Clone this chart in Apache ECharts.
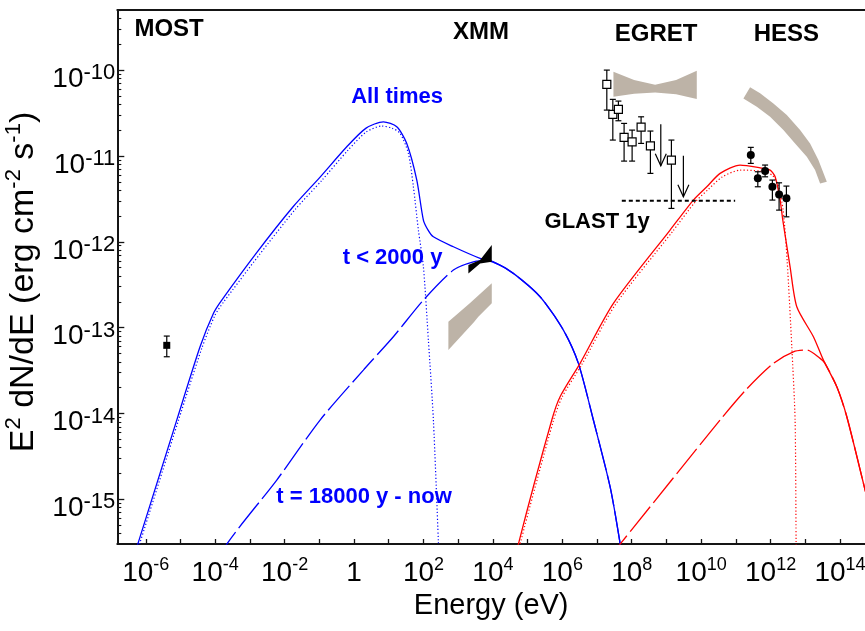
<!DOCTYPE html>
<html>
<head>
<meta charset="utf-8">
<script src="https://cdn.jsdelivr.net/npm/echarts@6/dist/echarts.min.js"></script>
<style>
  html, body { margin: 0; padding: 0; background: #fff; }
  #chart { width: 865px; height: 631px; }
</style>
</head>
<body>
<div id="chart"></div>
<script>
// Every point is [log10(E / eV), log10(E^2 dN/dE / erg cm^-2 s^-1)].

// Synchrotron, total of all electron populations
const syncTotal = [[-6.378,-15.71],[-6.230,-15.521],[-5.107,-14.077],[-4.436,-13.223],[-4.052,-12.834],[-3.810,-12.679],
  [-2.793,-12.120],[-1.756,-11.592],[-0.978,-11.246],[-0.209,-10.893],[0.347,-10.676],[0.845,-10.602],[1.231,-10.660],
  [1.519,-10.854],[1.808,-11.281],[1.998,-11.747],[2.133,-11.864],[2.286,-11.942],[2.862,-12.058],[3.631,-12.193],
  [4.015,-12.233],[4.591,-12.368],[5.360,-12.640],[6.031,-13.028],[6.463,-13.416],[6.895,-14.076],[7.376,-14.853],
  [7.665,-15.513],[7.720,-15.71]];
// Synchrotron, electrons injected during t < 2000 y
const syncEarly = [[-6.327,-15.71],[-6.179,-15.521],[-5.055,-14.076],[-4.384,-13.238],[-4.003,-12.853],[-3.759,-12.702],
  [-2.736,-12.155],[-1.699,-11.625],[-0.921,-11.281],[-0.172,-10.932],[0.347,-10.722],[0.799,-10.652],[1.096,-10.676],
  [1.327,-10.737],[1.566,-10.970],[1.710,-11.359],[1.854,-11.864],[1.998,-12.291],[2.142,-13.145],[2.286,-14.076],
  [2.430,-15.494],[2.450,-15.71]];
// Synchrotron, electrons injected from t = 18000 y until now
const syncLate = [[-3.800,-15.71],[-3.666,-15.521],[-2.226,-14.775],[-0.978,-14.076],[0.269,-13.494],[1.133,-13.106],
  [1.998,-12.679],[2.862,-12.329],[3.438,-12.233],[3.824,-12.221],[4.207,-12.271],[4.591,-12.368],[5.360,-12.640],
  [6.031,-13.028],[6.463,-13.416],[6.895,-14.076],[7.376,-14.853],[7.665,-15.513],[7.720,-15.71]];

// Inverse Compton, same three populations
const icTotal = [[4.670,-15.71],[4.735,-15.521],[5.697,-14.076],[5.936,-13.805],[6.512,-13.416],[7.472,-12.717],
  [9.105,-11.863],[9.776,-11.514],[10.163,-11.359],[10.546,-11.203],[11.122,-11.106],[11.698,-11.138],[11.987,-11.165],
  [12.131,-11.243],[12.275,-11.514],[12.352,-11.747],[12.562,-12.291],[12.755,-12.757],[13.234,-13.106],[13.522,-13.378],
  [13.908,-13.689],[14.196,-14.038],[14.723,-14.892],[14.867,-15.125]];
const icEarly = [[4.720,-15.71],[4.784,-15.521],[5.749,-14.076],[5.994,-13.808],[6.570,-13.424],[7.521,-12.737],
  [9.163,-11.887],[9.826,-11.537],[10.215,-11.386],[10.604,-11.246],[11.122,-11.165],[11.698,-11.176],[12.044,-11.223],
  [12.217,-11.339],[12.361,-11.631],[12.476,-12.213],[12.611,-13.223],[12.706,-14.076],[12.735,-15.494],[12.740,-15.71]];
const icLate = [[7.285,-15.71],[7.665,-15.521],[10.546,-14.076],[11.300,-13.720],[12.081,-13.416],[12.657,-13.281],
  [13.043,-13.261],[13.426,-13.358],[13.560,-13.410],[13.908,-13.689],[14.196,-14.038],[14.723,-14.892],[14.867,-15.125]];

// Radio flux: [log E, log F, log F upper, log F lower]
const mostPoints = [[-5.395,-13.206,-13.098,-13.339]];
// EGRET spectral points
const egretPoints = [[7.282,-10.167,-10.000,-10.466],[7.455,-10.516,-10.341,-10.815],[7.616,-10.458,-10.361,-10.590],
  [7.780,-10.784,-10.621,-11.060],[8.011,-10.835,-10.699,-11.060],[8.270,-10.664,-10.544,-10.854],
  [8.538,-10.882,-10.710,-11.203],[9.143,-11.048,-10.815,-11.611]];
// EGRET upper limits: [log E, log F from, log F arrow tip]
const egretLimits = [[8.837,-10.632,-11.115],[9.488,-10.998,-11.476]];
// HESS spectral points
const hessPoints = [[11.430,-10.990,-10.900,-11.087],[11.632,-11.261,-11.184,-11.359],[11.842,-11.176,-11.106,-11.243],
  [12.052,-11.359,-11.281,-11.514],[12.245,-11.448,-11.313,-11.631],[12.456,-11.494,-11.351,-11.709]];
// GLAST one-year sensitivity
const glastLine = [[7.714,-11.522],[10.979,-11.522]];

// Spectral fit envelopes
const xmmBowtie = [[3.294,-12.271],[3.631,-12.213],[3.968,-12.038],[3.968,-12.233],[3.631,-12.252],[3.294,-12.368]];
const xrayBand = [[2.718,-12.932],[3.343,-12.714],[3.968,-12.484],[3.968,-12.717],[3.574,-12.877],[3.458,-12.935],[2.718,-13.261]];
const egretBand = [[7.473,-10.020],[8.068,-10.116],[8.673,-10.170],[9.278,-10.116],[9.874,-10.008],
  [9.874,-10.338],[9.278,-10.280],[8.673,-10.262],[8.068,-10.275],[7.473,-10.311]];
const hessBand = [[11.410,-10.201],[11.698,-10.271],[12.081,-10.388],[12.467,-10.524],[12.850,-10.699],[13.138,-10.854],
  [13.378,-11.048],[13.620,-11.301],[13.426,-11.320],[13.282,-11.165],[13.043,-11.010],[12.706,-10.854],[12.369,-10.699],
  [11.986,-10.544],[11.603,-10.427],[11.217,-10.330]];

// Instrument names: [text, log E, log F]
const instrumentNotes = [
  ['MOST', -5.329, -9.528],
  ['XMM', 3.660, -9.563],
  ['EGRET', 8.702, -9.583],
  ['HESS', 12.456, -9.583]
];
// Model curve names
const curveNotes = [
  ['All times', 1.240, -10.314],
  ['t < 2000 y', 1.110, -12.190],
  ['t = 18000 y - now', 0.289, -14.973]
];
const glastNote = [['GLAST 1y', 7.003, -11.770]];

// Axis ticks (decade exponents)
const xTicks = [-6,-5,-4,-3,-2,-1,0,1,2,3,4,5,6,7,8,9,10,11,12,13,14];
const xLabels = [-6,-4,-2,0,2,4,6,8,10,12,14];
const yLabels = [-15,-14,-13,-12,-11,-10];

const X_MIN = -6.82, X_MAX = 14.72, Y_MIN = -15.52, Y_MAX = -9.30;

const yMinor = [];
for (let n = -16; n <= -10; n++) {
  for (let k = 2; k <= 9; k++) {
    const v = n + Math.log10(k);
    if (v > Y_MIN && v < Y_MAX) yMinor.push(v);
  }
}

const FONT = 'Liberation Sans, Arial, Helvetica, sans-serif';
const BLUE = '#0000ff', RED = '#ff0000', GREY = '#bdb3a7', AXIS = '#151515';

const powRich = supSize => ({
  b: { fontSize: 28, fontFamily: FONT, color: '#000', lineHeight: 34 },
  s: { fontSize: supSize, fontFamily: FONT, color: '#000', lineHeight: supSize, verticalAlign: 'top' }
});
const powLabel = v => (Math.round(v) === 0 ? '{b|1}' : '{b|10}{s|' + Math.round(v) + '}');

function curve(data, color, dash, width) {
  return {
    type: 'line', data: data, showSymbol: false, symbol: 'none', silent: true,
    smooth: 0.25, clip: true, z: 3,
    lineStyle: { color: color, width: width || 1.3, type: dash || 'solid' }
  };
}

function polygonSeries(polys, fill, z) {
  return {
    type: 'custom', coordinateSystem: 'cartesian2d', silent: true, z: z, clip: true,
    data: polys.map((p, i) => [p[0][0], p[0][1], i]),
    encode: { x: 0, y: 1 },
    renderItem: (params, api) => {
      const poly = polys[api.value(2)];
      return { type: 'polygon', shape: { points: poly.map(pt => api.coord(pt)) }, style: { fill: fill } };
    }
  };
}

function errorBarSeries(points) {
  return {
    type: 'custom', coordinateSystem: 'cartesian2d', silent: true, z: 4,
    data: points, encode: { x: 0, y: 1 },
    renderItem: (params, api) => {
      const x = api.value(0);
      const top = api.coord([x, api.value(2)]);
      const bot = api.coord([x, api.value(3)]);
      const st = { stroke: '#000', lineWidth: 1.2 };
      return { type: 'group', children: [
        { type: 'line', shape: { x1: top[0], y1: top[1], x2: bot[0], y2: bot[1] }, style: st },
        { type: 'line', shape: { x1: top[0] - 3, y1: top[1], x2: top[0] + 3, y2: top[1] }, style: st },
        { type: 'line', shape: { x1: bot[0] - 3, y1: bot[1], x2: bot[0] + 3, y2: bot[1] }, style: st }
      ] };
    }
  };
}

function textSeries(notes, color, size) {
  return {
    type: 'scatter', symbolSize: 0, silent: true, z: 7,
    itemStyle: { opacity: 1 },
    data: notes.map(n => ({ name: n[0], value: [n[1], n[2]] })),
    label: {
      show: true, position: 'inside', formatter: '{b}', color: color, opacity: 1,
      textBorderWidth: 0, fontFamily: FONT, fontWeight: 'bold', fontSize: size
    }
  };
}

const option = {
  animation: false,
  backgroundColor: '#fff',
  grid: { left: 117.3, right: 0, top: 10, bottom: 87, containLabel: false, outerBoundsMode: 'none' },
  xAxis: [
    {
      type: 'value', min: X_MIN, max: X_MAX, position: 'bottom',
      name: 'Energy (eV)', nameLocation: 'middle', nameGap: 47,
      nameTextStyle: { fontSize: 29, fontFamily: FONT, color: '#000' },
      axisLine: { show: true, onZero: false, lineStyle: { color: AXIS, width: 2 } },
      axisTick: { show: true, inside: true, length: 5, customValues: xTicks, lineStyle: { color: AXIS, width: 1.3 } },
      axisLabel: { show: true, margin: 12, customValues: xLabels, formatter: powLabel, rich: powRich(18) },
      splitLine: { show: false }
    },
    {
      type: 'value', min: X_MIN, max: X_MAX, position: 'top',
      axisLine: { show: true, onZero: false, lineStyle: { color: AXIS, width: 2 } },
      axisTick: { show: false }, axisLabel: { show: false }, splitLine: { show: false }
    }
  ],
  yAxis: [
    {
      type: 'value', min: Y_MIN, max: Y_MAX, position: 'left',
      name: '{n|E}{s|2}{n| dN/dE (erg cm}{s|-2}{n| s}{s|-1}{n|)}',
      nameLocation: 'middle', nameGap: 74,
      nameTextStyle: {
        padding: [0, 10, 0, 0],
        rich: {
          n: { fontSize: 34, fontFamily: FONT, color: '#000', lineHeight: 40 },
          s: { fontSize: 22, fontFamily: FONT, color: '#000', lineHeight: 22, verticalAlign: 'top' }
        }
      },
      axisLine: { show: true, onZero: false, lineStyle: { color: AXIS, width: 2 } },
      axisTick: { show: true, inside: true, length: 7, customValues: yLabels, lineStyle: { color: AXIS, width: 1.3 } },
      axisLabel: { show: true, margin: 2, customValues: yLabels, formatter: powLabel, rich: powRich(22), padding: [18, 0, 0, 0] },
      splitLine: { show: false }
    },
    {
      type: 'value', min: Y_MIN, max: Y_MAX, position: 'left',
      axisLine: { show: false, onZero: false },
      axisTick: { show: true, inside: true, length: 4, customValues: yMinor, lineStyle: { color: AXIS, width: 1.1 } },
      axisLabel: { show: false }, splitLine: { show: false }
    }
  ],
  series: [
    polygonSeries([xrayBand, egretBand, hessBand], GREY, 1),
    polygonSeries([xmmBowtie], '#000', 5),
    curve(syncLate, BLUE, [32, 5]),
    curve(syncEarly, BLUE, [1.2, 2.2], 1.2),
    curve(syncTotal, BLUE),
    curve(icLate, RED, [32, 5]),
    curve(icEarly, RED, [1.2, 2.2], 1.2),
    curve(icTotal, RED),
    {
      type: 'line', data: glastLine, showSymbol: false, symbol: 'none', silent: true, z: 4,
      lineStyle: { color: '#000', width: 2, type: [4, 3] }
    },
    errorBarSeries(mostPoints),
    errorBarSeries(egretPoints),
    errorBarSeries(hessPoints),
    {
      type: 'custom', coordinateSystem: 'cartesian2d', silent: true, z: 4,
      data: egretLimits, encode: { x: 0, y: 1 },
      renderItem: (params, api) => {
        const x = api.value(0);
        const a = api.coord([x, api.value(1)]);
        const b = api.coord([x, api.value(2)]);
        const st = { stroke: '#000', lineWidth: 1.2, fill: 'none' };
        return { type: 'group', children: [
          { type: 'line', shape: { x1: a[0], y1: a[1], x2: b[0], y2: b[1] }, style: st },
          { type: 'polyline', shape: { points: [[b[0] - 5.5, b[1] - 12], [b[0], b[1]], [b[0] + 5.5, b[1] - 12]] }, style: st }
        ] };
      }
    },
    {
      type: 'scatter', data: mostPoints.map(p => [p[0], p[1]]), symbol: 'rect', symbolSize: 7, z: 6, silent: true,
      itemStyle: { color: '#000', opacity: 1 }
    },
    {
      type: 'scatter', data: egretPoints.map(p => [p[0], p[1]]), symbol: 'rect', symbolSize: 8, z: 6, silent: true,
      itemStyle: { color: '#fff', borderColor: '#000', borderWidth: 1.2, opacity: 1 }
    },
    {
      type: 'scatter', data: hessPoints.map(p => [p[0], p[1]]), symbol: 'circle', symbolSize: 8, z: 6, silent: true,
      itemStyle: { color: '#000', opacity: 1 }
    },
    textSeries(instrumentNotes, '#000', 24),
    textSeries(curveNotes, BLUE, 22),
    textSeries(glastNote, '#000', 22)
  ]
};

const chart = echarts.init(document.getElementById('chart'), null, { renderer: 'canvas' });
chart.setOption(option);
</script>
</body>
</html>
